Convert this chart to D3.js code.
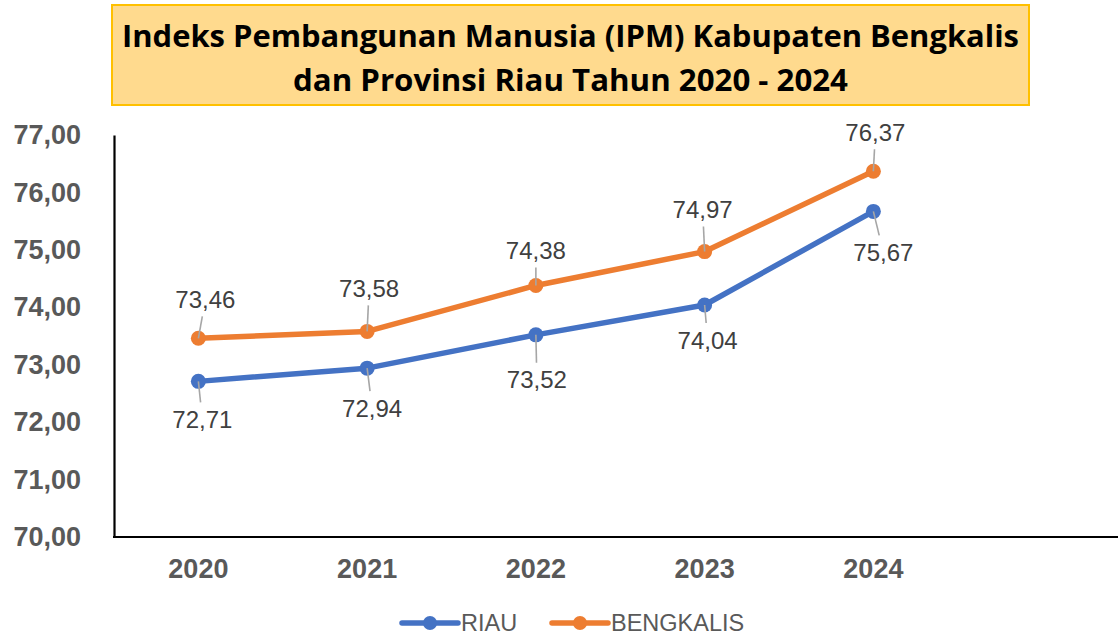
<!DOCTYPE html>
<html>
<head>
<meta charset="utf-8">
<script src="https://cdn.jsdelivr.net/npm/d3@7"></script>
<style>
  html, body { margin: 0; padding: 0; background: #fff; }
  svg { display: block; }
</style>
</head>
<body>
<svg id="chart" width="1118" height="637"></svg>
<script>
// Years on the category axis
const years = ["2020", "2021", "2022", "2023", "2024"];
// IPM values per series
const riau = [72.71, 72.94, 73.52, 74.04, 75.67];
const bengkalis = [73.46, 73.58, 74.38, 74.97, 76.37];
// Value-axis ticks
const yTicks = [70, 71, 72, 73, 74, 75, 76, 77];
const titleLines = [
  "Indeks Pembangunan Manusia (IPM) Kabupaten Bengkalis",
  "dan Provinsi Riau Tahun 2020 - 2024"
];

// Label placement nudges (pixels from each point), hand-tuned per label
const bengkalisLabelNudge = [[7, -39], [2, -43], [0, -35], [-2, -42], [2, -39]];
const riauLabelNudge = [[4, 38], [5, 40], [1, 45], [3, 35], [10, 41]];

const fmt = v => v.toFixed(2).replace(".", ",");

const svg = d3.select("#chart");

const plot = { left: 114, right: 1118, top: 135, bottom: 537 };
// One spare slot on the right, as the category axis runs past the last year
const slot = 168.75;
const x = d3.scaleBand()
  .domain(years)
  .range([plot.left, plot.left + slot * years.length])
  .paddingInner(0).paddingOuter(0);
const xc = d => x(d) + x.bandwidth() / 2;
const y = d3.scaleLinear().domain([70, 77]).range([plot.bottom, plot.top]);

// Title box
const tb = svg.append("g");
tb.append("rect")
  .attr("x", 112).attr("y", 5).attr("width", 917).attr("height", 100)
  .attr("fill", "#FFDA8E").attr("stroke", "#FFC000").attr("stroke-width", 2);
const titleWidths = [897, 555];
const titleBaselines = [47, 91];
titleLines.forEach((t, i) => {
  tb.append("text")
    .attr("x", 570.5).attr("y", titleBaselines[i])
    .attr("text-anchor", "middle")
    .attr("font-family", "'Open Sans', Lato, sans-serif")
    .attr("font-weight", "bold")
    .attr("font-size", 31)
    .attr("fill", "#000")
    .attr("textLength", titleWidths[i])
    .attr("lengthAdjust", "spacingAndGlyphs")
    .text(t);
});

// Value axis
const yAxis = d3.axisLeft(y).tickValues(yTicks).tickSize(0).tickFormat(fmt).tickPadding(33);
const gy = svg.append("g").attr("transform", `translate(${plot.left},0)`).call(yAxis);
gy.select(".domain").attr("stroke", "#000").attr("stroke-width", 2.2);
gy.selectAll("text")
  .attr("font-family", "Arial, 'Liberation Sans', sans-serif")
  .attr("font-weight", "bold")
  .attr("font-size", 27)
  .attr("fill", "#595959");

// Category axis
const xAxis = d3.axisBottom(x).tickSize(0).tickPadding(22);
const gx = svg.append("g").attr("transform", `translate(0,${plot.bottom})`).call(xAxis);
gx.select(".domain").remove();
gx.append("line")
  .attr("x1", plot.left - 1).attr("x2", plot.right)
  .attr("y1", 0).attr("y2", 0)
  .attr("stroke", "#000").attr("stroke-width", 2.2);
gx.selectAll("text")
  .attr("font-family", "Arial, 'Liberation Sans', sans-serif")
  .attr("font-weight", "bold")
  .attr("font-size", 27)
  .attr("fill", "#595959");

const series = [
  { name: "RIAU", values: riau, color: "#4472C4", nudge: riauLabelNudge },
  { name: "BENGKALIS", values: bengkalis, color: "#ED7D31", nudge: bengkalisLabelNudge }
];

const line = d3.line().x((d, i) => xc(years[i])).y(d => y(d));

series.forEach(s => {
  const g = svg.append("g");
  g.append("path")
    .attr("d", line(s.values))
    .attr("fill", "none")
    .attr("stroke", s.color)
    .attr("stroke-width", 5.5)
    .attr("stroke-linejoin", "round")
    .attr("stroke-linecap", "round");
  g.selectAll("circle").data(s.values).join("circle")
    .attr("cx", (d, i) => xc(years[i]))
    .attr("cy", d => y(d))
    .attr("r", 7.5)
    .attr("fill", s.color);

  // Data labels with leader lines
  s.values.forEach((v, i) => {
    const px = xc(years[i]), py = y(v);
    const lx = px + s.nudge[i][0], ly = py + s.nudge[i][1];
    const dir = Math.sign(s.nudge[i][1]);
    const endY = ly - dir * 17;
    const t = (endY - py) / (ly - py);
    g.append("line")
      .attr("x1", px).attr("y1", py)
      .attr("x2", px + (lx - px) * t).attr("y2", endY)
      .attr("stroke", "#A6A6A6").attr("stroke-width", 1.6);
    g.append("text")
      .attr("x", lx).attr("y", ly)
      .attr("dy", "0.36em")
      .attr("text-anchor", "middle")
      .attr("font-family", "Arial, 'Liberation Sans', sans-serif")
      .attr("font-size", 24)
      .attr("fill", "#404040")
      .text(fmt(v));
  });
});

// Legend
const legendPos = [402, 552];
series.forEach((s, i) => {
  const lg = svg.append("g").attr("transform", `translate(${legendPos[i]},623)`);
  lg.append("line").attr("x1", 0).attr("x2", 56).attr("y1", 0).attr("y2", 0)
    .attr("stroke", s.color).attr("stroke-width", 5.5).attr("stroke-linecap", "round");
  lg.append("circle").attr("cx", 28).attr("cy", 0).attr("r", 7).attr("fill", s.color);
  lg.append("text").attr("x", 59).attr("y", 0).attr("dy", "0.35em")
    .attr("font-family", "Arial, 'Liberation Sans', sans-serif")
    .attr("font-size", 23.5)
    .attr("fill", "#595959")
    .text(s.name);
});
</script>
</body>
</html>
